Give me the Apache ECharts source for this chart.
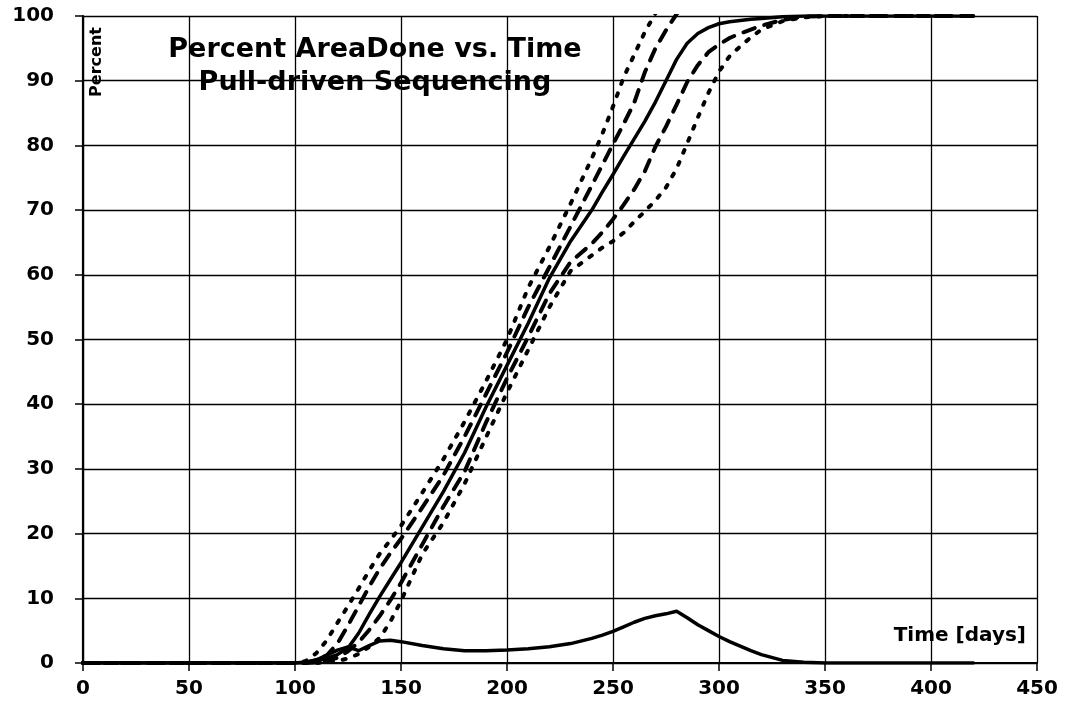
<!DOCTYPE html>
<html>
<head>
<meta charset="utf-8">
<title>Percent AreaDone vs. Time</title>
<script src="https://cdn.jsdelivr.net/npm/echarts@6/dist/echarts.min.js"></script>
<style>
  html, body { margin: 0; padding: 0; background: #fff; }
  #main { width: 1068px; height: 717px; }
</style>
</head>
<body>
<div id="main"></div>
<script>
// time axis (days)
var days = [0, 100, 105, 110, 115, 120, 125, 130, 135, 140, 145, 150, 160, 170, 180, 190, 200, 210, 220, 230,
            240, 245, 250, 255, 260, 265, 270, 275, 280, 285, 290, 295, 300, 305, 310, 315, 320, 330, 340, 350, 420];

// mean percent area done (solid)
var meanDone = [0, 0, 0.1, 0.3, 0.7, 1.3, 2.3, 4.6, 7.5, 10.3, 12.9, 15.5, 21, 26.5, 32.5, 39.5, 46, 52.5, 59.5, 65.2,
                70, 72.8, 75.5, 78.3, 81, 83.7, 86.7, 90, 93.3, 95.8, 97.3, 98.2, 98.8, 99.1, 99.3, 99.5, 99.6, 99.9, 100, 100, 100];
// upper band, dashed
var upper1 = [0, 0, 0.1, 0.4, 1.2, 3, 5.8, 8.8, 11.8, 14.6, 17, 19.2, 24, 29, 35, 41.5, 48, 55, 61.2, 67.5,
              73.8, 77, 80.2, 83.3, 86.6, 91.3, 95, 97.8, 100.3, 102.5, 104.5, 106, 107, null, null, null, null, null, null, null, null];
// upper band, dotted
var upper2 = [0, 0, 0.3, 1.5, 3.5, 6.2, 8.8, 11.5, 14.3, 16.9, 19, 21.2, 26.3, 31.5, 37.3, 43.5, 50, 58, 64.3, 71,
              78, 81.8, 86, 90.5, 94, 97.5, 100.4, 103, 106, null, null, null, null, null, null, null, null, null, null, null, null];
// lower band, dashed
var lower1 = [0, 0, 0, 0.1, 0.3, 0.8, 1.8, 3.2, 5.1, 7.3, 9.7, 12.4, 18.3, 24.2, 29.6, 37.1, 44, 50.4, 57.1, 62,
              64.8, 66.6, 68.6, 70.8, 73.2, 76, 79.8, 82.9, 86.3, 89.8, 92.4, 94.4, 95.6, 96.6, 97.3, 97.9, 98.5, 99.4, 99.9, 100, 100];
// lower band, dotted
var lower2 = [0, 0, 0, 0, 0.1, 0.3, 0.7, 1.4, 2.5, 3.9, 6.4, 9.6, 16.8, 21.7, 27.7, 34.8, 41.8, 48.4, 55, 60.6,
              63, 64.2, 65.2, 66.5, 68.2, 69.8, 71.5, 73.5, 76.4, 80.3, 84.3, 88.1, 91.4, 93.8, 95.3, 96.7, 97.9, 99.2, 99.8, 100, 100];
// spread curve near the bottom (solid)
var spread = [0, 0, 0.1, 0.5, 1.2, 2, 2.5, 1.9, 2.7, 3.4, 3.5, 3.3, 2.7, 2.2, 1.9, 1.9, 2, 2.2, 2.5, 3,
              3.8, 4.3, 4.9, 5.6, 6.3, 6.9, 7.3, 7.6, 8, 7, 5.9, 5, 4.1, 3.3, 2.6, 1.9, 1.3, 0.4, 0.1, 0, 0];

function pairs(ys) {
  var out = [];
  for (var i = 0; i < days.length; i++) {
    out.push([days[i], ys[i]]);
  }
  return out;
}

var chart = echarts.init(document.getElementById('main'), null, { renderer: 'canvas' });

var tickFont = {
  fontFamily: 'DejaVu Sans',
  fontWeight: 'bold',
  fontSize: 20,
  color: '#000'
};

function lineSeries(name, ys, type, width) {
  return {
    name: name,
    type: 'line',
    data: pairs(ys),
    symbol: 'none',
    clip: true,
    connectNulls: false,
    lineStyle: { color: '#000', width: width, type: type, cap: 'round', join: 'round' },
    z: 3
  };
}

var option = {
  backgroundColor: '#fff',
  animation: false,
  title: {
    text: 'Percent AreaDone vs. Time\nPull-driven Sequencing',
    left: 370,
    top: 28,
    textAlign: 'center',
    textStyle: {
      fontFamily: 'DejaVu Sans',
      fontWeight: 'bold',
      fontSize: 27,
      lineHeight: 33,
      color: '#000'
    }
  },
  grid: {
    left: 83,
    right: 31,
    top: 16,
    bottom: 54,
    outerBoundsMode: 'none'
  },
  xAxis: {
    type: 'value',
    min: 0,
    max: 450,
    interval: 50,
    axisLine: { show: true, onZero: false, lineStyle: { color: '#000', width: 2.2 } },
    axisTick: { show: true, length: 8, lineStyle: { color: '#000', width: 1.5 } },
    splitLine: { show: true, lineStyle: { color: '#000', width: 1.3 } },
    axisLabel: {
      margin: 16,
      fontFamily: 'DejaVu Sans',
      fontWeight: 'bold',
      fontSize: 20,
      color: '#000'
    }
  },
  yAxis: [
    {
      // labels and grid lines, pushed left
      type: 'value',
      position: 'left',
      offset: 21,
      min: 0,
      max: 100,
      interval: 10,
      axisLine: { show: false },
      axisTick: { show: false },
      splitLine: { show: true, lineStyle: { color: '#000', width: 1.3 } },
      axisLabel: {
        margin: 8,
        fontFamily: 'DejaVu Sans',
        fontWeight: 'bold',
        fontSize: 20,
        color: '#000'
      }
    },
    {
      // axis line and ticks at the plot edge
      type: 'value',
      position: 'left',
      offset: 0,
      min: 0,
      max: 100,
      interval: 10,
      axisLine: { show: true, onZero: false, lineStyle: { color: '#000', width: 2.2 } },
      axisTick: { show: true, length: 8, lineStyle: { color: '#000', width: 1.5 } },
      splitLine: { show: false },
      axisLabel: { show: false }
    }
  ],
  graphic: [
    {
      type: 'text',
      x: 97,
      y: 62,
      rotation: Math.PI / 2,
      style: {
        text: 'Percent',
        font: 'bold 16px "DejaVu Sans"',
        fill: '#000',
        align: 'center',
        verticalAlign: 'middle'
      },
      z: 10
    },
    {
      type: 'text',
      x: 1026,
      y: 636,
      style: {
        text: 'Time [days]',
        font: 'bold 20px "DejaVu Sans"',
        fill: '#000',
        align: 'right',
        verticalAlign: 'middle'
      },
      z: 10
    }
  ],
  series: [
    lineSeries('+2', upper2, [3, 10], 4),
    lineSeries('+1', upper1, [12, 10], 4),
    lineSeries('mean', meanDone, 'solid', 3.5),
    lineSeries('-1', lower1, [12, 10], 4),
    lineSeries('-2', lower2, [3, 10], 4),
    lineSeries('spread', spread, 'solid', 3.5)
  ]
};

chart.setOption(option);
</script>
</body>
</html>
